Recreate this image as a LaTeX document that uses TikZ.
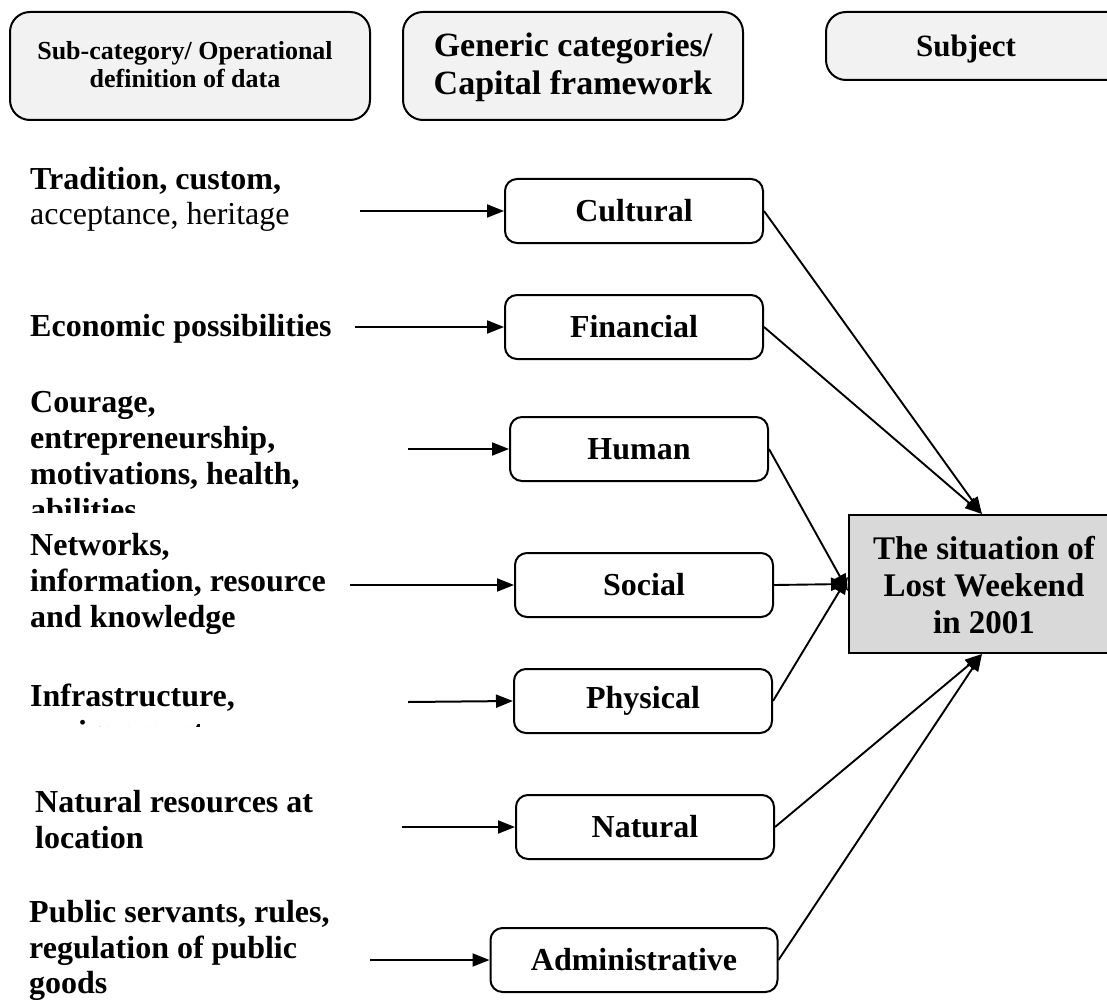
\documentclass[tikz,border=0pt]{standalone}
\usepackage{fontspec}
\setmainfont{Liberation Serif}
\usetikzlibrary{arrows.meta,positioning}

\definecolor{headfill}{HTML}{F2F2F2}
\definecolor{subjfill}{HTML}{D9D9D9}

\begin{document}
\begin{tikzpicture}[x=1pt,y=-1pt,
  headbox/.style={draw,line width=2pt,rounded corners=20pt,fill=headfill},
  capbox/.style={draw,line width=2pt,rounded corners=12pt,fill=white,
    minimum width=258pt,minimum height=64pt,inner sep=0pt,
    font=\fontsize{32}{35}\selectfont\bfseries},
  lbl/.style={anchor=base west,inner sep=0pt,font=\fontsize{32}{36}\selectfont\bfseries},
  feed/.style={line width=2pt,-{Triangle[length=17pt,width=13pt]}},
  tosubj/.style={line width=1.9pt,-{Triangle[length=17pt,width=13pt]}}]
\useasboundingbox (0,0) rectangle (1107,1000);
\clip (0,0) rectangle (1107,1000);

% column headings
\draw[headbox] (10,12) rectangle (370,120);
\node[font=\fontsize{26}{28}\selectfont\bfseries,align=center] (hsub) at (185,65)
  {Sub-category/ Operational\\definition of data};
\draw[headbox] (403,12) rectangle (743,120);
\node[font=\fontsize{34}{38}\selectfont\bfseries,align=center] (hgen) at (573,67)
  {Generic categories/\\Capital framework};
\draw[headbox] (826,12) rectangle (1130,80);
\node[font=\fontsize{31}{36}\selectfont\bfseries] (hsubj) at (966,49) {Subject};

% capital categories
\node[capbox] (cult) at (634,211) {Cultural};
\node[capbox] (fin)  at (634,327) {Financial};
\node[capbox] (hum)  at (639,449) {Human};
\node[capbox] (soc)  at (644,585) {Social};
\node[capbox] (phys) at (643,701) {Physical};
\node[capbox] (nat)  at (645,827) {Natural};
\node[capbox,minimum width=287pt] (adm) at (634,960) {Administrative};

% subject
\node[draw,line width=2pt,fill=subjfill,minimum width=270pt,minimum height=138pt,
  inner sep=0pt] (sit) at (984,584) {};
\node[font=\fontsize{33}{37}\selectfont\bfseries,align=center] (sittxt) at (984,585)
  {The situation of\\Lost Weekend\\in 2001};

% operational definitions
\node[lbl] (t1a) at (30,190) {Tradition, custom,};
\node[lbl,font=\fontsize{32}{36}\selectfont] (t1b) at (30,225) {acceptance, heritage};
\node[lbl] (t2) at (30,336) {Economic possibilities};
\node[lbl] (t3a) at (30,412) {Courage,};
\node[lbl] (t3b) at (30,448) {entrepreneurship,};
\node[lbl] (t3c) at (30,484) {motivations, health,};
\begin{scope}
  \clip (0,492) rectangle (400,512);
  \node[lbl] (t3d) at (30,520) {abilities};
\end{scope}
\node[lbl] (t4a) at (30,555) {Networks,};
\node[lbl] (t4b) at (30,591) {information, resource};
\node[lbl] (t4c) at (30,627) {and knowledge};
\node[lbl] (t5a) at (30,706) {Infrastructure,};
\begin{scope}
  \clip (0,714) rectangle (400,726);
  \node[lbl] (t5b) at (30,742) {environment};
\end{scope}
\node[lbl] (t6a) at (35,812) {Natural resources at};
\node[lbl] (t6b) at (35,848) {location};
\node[lbl] (t7a) at (29,922) {Public servants, rules,};
\node[lbl] (t7b) at (29,958) {regulation of public};
\node[lbl] (t7c) at (29,993) {goods};

% arrow tails
\coordinate (s1) at (360,211);
\coordinate (s2) at (355,327);
\coordinate (s3) at (408,449);
\coordinate (s4) at (350,585);
\coordinate (s5) at (408,702);
\coordinate (s6) at (402,827);
\coordinate (s7) at (370,960);

\draw[feed] (s1) -- (cult.west);
\draw[feed] (s2) -- (fin.west);
\draw[feed] (s3) -- (hum.west);
\draw[feed] (s4) -- (soc.west);
\draw[feed] (s5) -- (phys.west);
\draw[feed] (s6) -- (nat.west);
\draw[feed] (s7) -- (adm.west);

% categories into the subject
\draw[tosubj] (cult.east) -- ([xshift=-2pt]sit.north);
\draw[tosubj] (fin.east)  -- ([xshift=-2pt]sit.north);
\draw[tosubj] (hum.east)  -- ([yshift=-7pt]sit.west);
\draw[tosubj] (soc.east)  -- (sit.west);
\draw[tosubj] (phys.east) -- ([yshift=7pt]sit.west);
\draw[tosubj] (nat.east)  -- ([xshift=-2pt]sit.south);
\draw[tosubj] (adm.east)  -- ([xshift=-2pt]sit.south);
\end{tikzpicture}
\end{document}
